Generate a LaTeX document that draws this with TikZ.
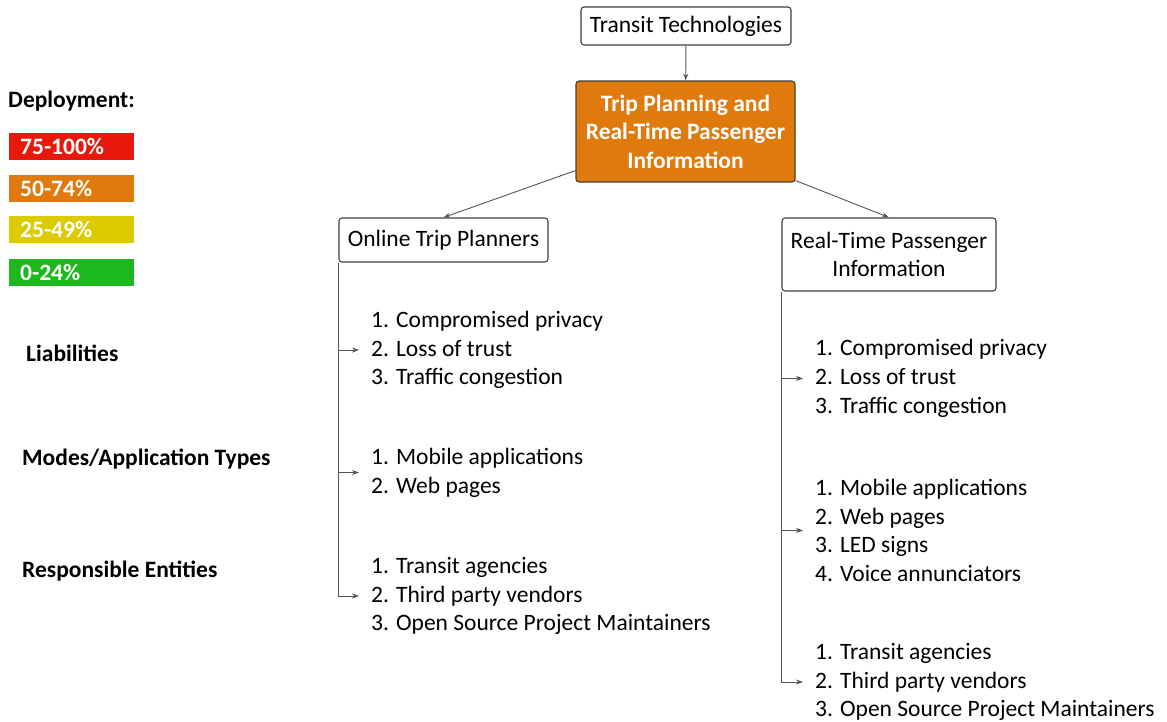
\documentclass[tikz,border=0pt]{standalone}
\usepackage{fontspec}
\setmainfont{Carlito}
\usetikzlibrary{arrows.meta}

\definecolor{depRed}{HTML}{E8190C}
\definecolor{depOrange}{HTML}{E07A0C}
\definecolor{depYellow}{HTML}{DCCB00}
\definecolor{depGreen}{HTML}{1DB81D}
\definecolor{lineGray}{HTML}{555555}

\tikzset{
  techbox/.style={draw=black!75, line width=1.1pt, rounded corners=3pt,
    fill=white, align=center, inner sep=2pt,
    font=\fontsize{23.5}{28.5}\selectfont},
  itemlist/.style={anchor=west, align=left, inner xsep=12pt, inner ysep=0pt,
    font=\fontsize{23.5}{28.8}\selectfont},
  legendbox/.style={anchor=north west, minimum width=125pt, minimum height=27pt,
    inner xsep=11pt, text=white, text width=103pt, align=left,
    font=\fontsize{23.5}{24}\selectfont\bfseries},
  rowlabel/.style={anchor=west, inner sep=0pt,
    font=\fontsize{23.5}{24}\selectfont\bfseries},
  link/.style={draw=lineGray, line width=0.9pt,
    -{Stealth[length=7pt,width=5pt]}}
}

\begin{document}
\begin{tikzpicture}[x=1pt,y=-1pt]
  \useasboundingbox (0,0) rectangle (1167,721);

  % legend
  \node[rowlabel] (deploy) at (8,101) {Deployment:};
  \node[legendbox, fill=depRed]    (d1) at (9,133) {75-100\%};
  \node[legendbox, fill=depOrange] (d2) at (9,175) {50-74\%};
  \node[legendbox, fill=depYellow] (d3) at (9,216) {25-49\%};
  \node[legendbox, fill=depGreen]  (d4) at (9,259) {0-24\%};

  % row labels
  \node[rowlabel] (liab) at (26,353) {Liabilities};
  \node[rowlabel] (modes) at (22,459) {Modes/Application Types};
  \node[rowlabel] (resp) at (22,571) {Responsible Entities};

  % tree
  \node[techbox, minimum width=210pt, minimum height=38pt] (tt) at (686,26)
    {Transit Technologies};
  \node[techbox, fill=depOrange, text=white, font=\fontsize{23.5}{28.5}\selectfont\bfseries,
    minimum width=219pt, minimum height=101pt] (tpi) at (685.5,131.5)
    {Trip Planning and\\Real-Time Passenger\\Information};
  \node[techbox, minimum width=209pt, minimum height=44pt] (otp) at (443.5,240)
    {Online Trip Planners};
  \node[techbox, minimum width=214pt, minimum height=73pt] (rtpi) at (889,254.5)
    {Real-Time Passenger\\Information};

  \draw[link] (tt) -- (tpi);
  \draw[link] ([yshift=12pt]tpi.south west) -- (otp.north);
  \draw[link] ([yshift=2pt]tpi.south east) -- (rtpi.north);

  % online trip planners lists
  \node[itemlist] (ol1) at (359,350)
    {1. Compromised privacy\\2. Loss of trust\\3. Traffic congestion};
  \node[itemlist] (ol2) at (359,472.5)
    {1. Mobile applications\\2. Web pages};
  \node[itemlist] (ol3) at (359,596)
    {1. Transit agencies\\2. Third party vendors\\3. Open Source Project Maintainers};

  % real-time passenger information lists
  \node[itemlist] (rl1) at (803,378.5)
    {1. Compromised privacy\\2. Loss of trust\\3. Traffic congestion};
  \node[itemlist] (rl2) at (803,530.5)
    {1. Mobile applications\\2. Web pages\\3. LED signs\\4. Voice annunciators};
  \node[itemlist] (rl3) at (803,682)
    {1. Transit agencies\\2. Third party vendors\\3. Open Source Project Maintainers};

  \draw[link] (otp.south west) |- (ol1.west);
  \draw[link] (otp.south west) |- (ol2.west);
  \draw[link] (otp.south west) |- (ol3.west);
  \draw[link] (rtpi.south west) |- (rl1.west);
  \draw[link] (rtpi.south west) |- (rl2.west);
  \draw[link] (rtpi.south west) |- (rl3.west);
\end{tikzpicture}
\end{document}
